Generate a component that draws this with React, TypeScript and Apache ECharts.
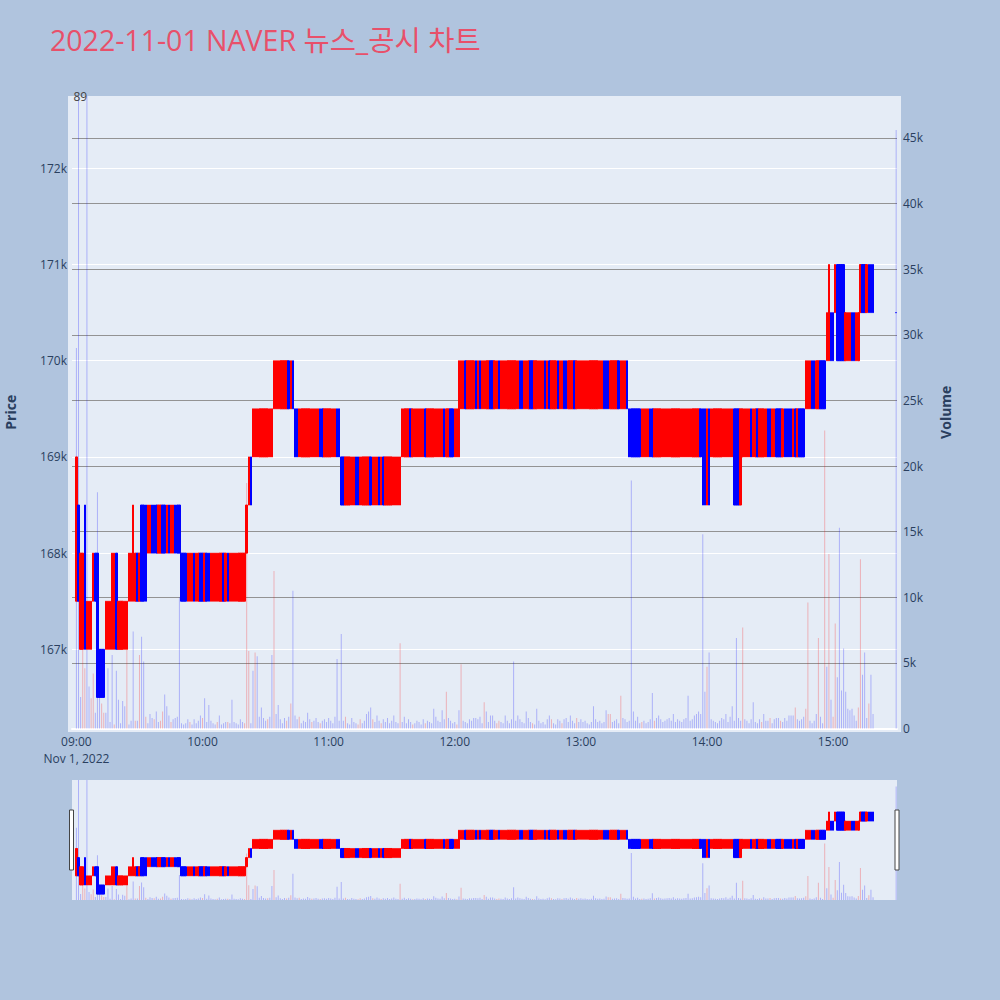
import React, { useEffect, useRef } from "react";
import * as echarts from "echarts";

// ---------- data ----------
const TITLE = "2022-11-01 NAVER 뉴스_공시 차트";
const priceTicks = [167000, 168000, 169000, 170000, 171000, 172000];
const volumeTicks = [0, 5000, 10000, 15000, 20000, 25000, 30000, 35000, 40000, 45000];
const timeTicks = [0, 60, 120, 180, 240, 300, 360]; // minutes after 09:00
const timeLabels = ["09:00\nNov 1, 2022", "10:00", "11:00", "12:00", "13:00", "14:00", "15:00"];

// [first minute, last minute, low, high, per-minute direction R=up B=down]
const priceRuns: [number, number, number, number, string][] = [
  [0, 0, 167500, 169000, "R"],
  [1, 1, 167500, 168500, "B"],
  [2, 3, 167000, 168000, "RR"],
  [4, 4, 167000, 168500, "B"],
  [5, 7, 167000, 167500, "RRR"],
  [8, 8, 167500, 168000, "R"],
  [9, 9, 167500, 168000, "B"],
  [10, 10, 166500, 168000, "B"],
  [11, 13, 166500, 167000, "BBB"],
  [14, 16, 167000, 167500, "RRR"],
  [17, 18, 167000, 168000, "RR"],
  [19, 19, 167000, 168000, "B"],
  [20, 24, 167000, 167500, "RRRRR"],
  [25, 26, 167500, 168000, "RR"],
  [27, 27, 167500, 168500, "R"],
  [28, 28, 167500, 168000, "R"],
  [29, 30, 167500, 168000, "BR"],
  [31, 33, 167500, 168500, "BBB"],
  [34, 49, 168000, 168500, "RR BBB RR BB R B RR BBB"],
  [50, 80, 167500, 168000, "BBB RRR B RR BB R BB RRRRRR B R B RRRRRRRR"],
  [81, 81, 168000, 168500, "R"],
  [82, 82, 168500, 169000, "R"],
  [83, 83, 168500, 169000, "B"],
  [84, 93, 169000, 169500, "RRRRRRRRRR"],
  [94, 103, 169500, 170000, "RRRRRRR B R B"],
  [104, 125, 169000, 169500, "BB RRRRRRRRRR BB RRRRRR BB"],
  [126, 154, 168500, 169000, "BB RRRRR BB RRRRR B RRR B R B RRRRRRRR"],
  [155, 181, 169000, 169500, "RRRR B RRRRRR B RRRRRRRR B RR BB RR"],
  [182, 182, 169000, 170000, "R"],
  [183, 262, 169500, 170000, "RR B RRRR B R B RRRR BB RR B RRRRRRRRR BB RRR BB RRRRR B R B RRR B RR BB RRR B RRRRRRRRRRRRR BBB RRRR B RRR B"],
  [263, 296, 169000, 169500, "BBBBBB RRRR BB RRRRRRRRRRRRRRRRRRRRRR"],
  [297, 297, 169000, 169500, "B"],
  [298, 301, 168500, 169500, "BBRB"],
  [302, 312, 169000, 169500, "RRRRRRRRRRR"],
  [313, 316, 168500, 169500, "BBBR"],
  [317, 346, 169000, 169500, "RRRR B RR B RRRR BB RR BBB R BBBB R B R BBB"],
  [347, 356, 169500, 170000, "RRR BB RR BBB"],
  [357, 357, 170000, 170500, "R"],
  [358, 358, 170000, 171000, "R"],
  [359, 360, 170000, 170500, "BB"],
  [361, 361, 170500, 171000, "R"],
  [362, 365, 170000, 171000, "BBBB"],
  [366, 372, 170000, 170500, "RRR BB RR"],
  [373, 379, 170500, 171000, "R BB R BBB"],
  [390, 390, 170500, 170500, "B"],
];

// volume per minute from 09:00 (minute 0) to 15:19 (minute 379)
const volumes: number[] = [
  29000, 60000, 2400, 6000, 4600, 60000, 3200, 2300, 4200, 1200,
  18000, 4700, 1900, 1200, 1200, 4600, 500, 5600, 300, 4400,
  2200, 400, 2100, 1700, 6000, 300, 600, 7400, 600, 600,
  5600, 7000, 5100, 900, 400, 1100, 800, 700, 1300, 500,
  600, 1300, 2600, 1700, 1000, 500, 700, 800, 900, 10000,
  400, 300, 400, 700, 500, 300, 700, 400, 600, 1000,
  800, 2300, 500, 1800, 600, 400, 300, 500, 1000, 300,
  400, 500, 500, 400, 2200, 500, 400, 300, 700, 500,
  400, 18700, 5900, 400, 4400, 5800, 5500, 900, 1600, 800,
  600, 700, 900, 5600, 12000, 1100, 1800, 700, 400, 800,
  600, 900, 1900, 10500, 1000, 700, 900, 400, 600, 500,
  1200, 700, 500, 600, 800, 500, 400, 600, 700, 500,
  800, 600, 400, 900, 5300, 600, 7200, 600, 900, 400,
  300, 800, 500, 400, 300, 700, 400, 600, 1100, 1300,
  1600, 700, 500, 1000, 600, 400, 700, 500, 800, 400,
  600, 1000, 500, 400, 6500, 500, 900, 400, 700, 500,
  300, 400, 600, 500, 300, 700, 400, 600, 500, 400,
  1500, 900, 600, 500, 1400, 700, 2800, 800, 600, 400,
  500, 300, 1400, 4900, 600, 500, 400, 700, 600, 800,
  800, 700, 900, 400, 2000, 1300, 500, 1000, 1000, 600,
  400, 600, 500, 400, 1000, 600, 400, 700, 5100, 600,
  1000, 700, 500, 400, 1300, 800, 500, 400, 300, 1500,
  600, 400, 500, 300, 700, 1000, 700, 400, 300, 700,
  600, 400, 700, 800, 500, 1000, 600, 400, 800, 500,
  700, 500, 600, 400, 300, 500, 1700, 700, 500, 600,
  400, 500, 1400, 1100, 1100, 500, 600, 700, 400, 2500,
  800, 700, 500, 600, 18900, 1300, 600, 900, 400, 500,
  600, 400, 500, 700, 2700, 600, 800, 1000, 700, 500,
  600, 700, 800, 600, 1100, 500, 700, 600, 500, 700,
  800, 2500, 600, 700, 1000, 1100, 1300, 1100, 14800, 2800,
  4700, 5800, 700, 600, 500, 400, 600, 800, 700, 1100,
  500, 900, 1700, 600, 6900, 800, 600, 7700, 700, 600,
  400, 700, 2000, 500, 400, 700, 500, 1100, 600, 600,
  800, 400, 700, 800, 800, 600, 500, 800, 600, 1000,
  1000, 1000, 1600, 700, 600, 700, 900, 1500, 9600, 600,
  400, 600, 1100, 6900, 900, 400, 22700, 4700, 13300, 2200,
  900, 8000, 3900, 15300, 2900, 6100, 2800, 1500, 1400, 1500,
  1000, 600, 1600, 12900, 4100, 5800, 800, 1900, 4100, 1100,
];
const closingMinute = 390;
const closingVolume = 45600;
const volRedMinutes = [3, 4, 7, 8, 12, 13, 18, 24, 28, 30, 33, 37, 40, 41, 45, 54, 60, 67, 72, 80, 81, 82, 85, 91, 94, 100, 102, 106, 112, 116, 128, 134, 135, 141, 145, 154, 160, 166, 176, 181, 183, 194, 200, 201, 217, 226, 231, 238, 253, 254, 259, 269, 275, 300, 317, 326, 330, 335, 342, 347, 348, 353, 356, 358, 360, 361, 372, 373, 377];

// ---------- styling ----------
const RED = "#ff0000";
const BLUE = "#0000ff";
const VOL_RED = "rgba(255,0,0,0.25)";
const VOL_BLUE = "rgba(0,0,255,0.25)";
const FONT = "'Open Sans', 'Noto Sans CJK KR', verdana, arial, sans-serif";
const TXT = "#2a3f5f";

const X_MIN = -2.1;
const X_MAX = 390.4;
const P_MIN = 166177;
const P_MAX = 172752;
const V_MAX = 48200;

function buildCandles() {
  const out: any[] = [];
  for (const [s, e, lo, hi, raw] of priceRuns) {
    const dirs = raw.replace(/\s/g, "");
    for (let m = s; m <= e; m++) {
      const up = (dirs[m - s] || "R") === "R";
      const col = up ? RED : BLUE;
      out.push({
        value: [m, up ? lo : hi, up ? hi : lo, lo, hi],
        itemStyle: { color: col, color0: col, borderColor: col, borderColor0: col, opacity: 1 },
      });
    }
  }
  return out;
}

function buildVolumes() {
  const red = new Set(volRedMinutes);
  const out: any[] = volumes.map((v, m) => ({
    value: [m, v],
    itemStyle: { color: red.has(m) ? VOL_RED : VOL_BLUE },
  }));
  out.push({ value: [closingMinute, closingVolume], itemStyle: { color: VOL_BLUE } });
  return out;
}

export default function App() {
  const ref = useRef<HTMLDivElement>(null);
  useEffect(() => {
    if (!ref.current) return;
    const chart = echarts.init(ref.current, undefined, { renderer: "svg" });
    const candles = buildCandles();
    const vols = buildVolumes();

    const candleStyle = {
      borderWidth: 1, opacity: 1,
      color: RED, color0: BLUE, borderColor: RED, borderColor0: BLUE,
    };

    const option: any = {
      animation: false,
      backgroundColor: "#b0c4de",
      textStyle: { fontFamily: FONT },
      grid: [
        { left: 72, top: 96, width: 825, height: 632.5, containLabel: false, outerBoundsMode: "none" },
        {
          left: 72, top: 780, width: 825, height: 120, containLabel: false, outerBoundsMode: "none",
          show: true, backgroundColor: "#e5ecf6", borderWidth: 0,
        },
      ],
      xAxis: [
        {
          type: "value", gridIndex: 0, min: X_MIN, max: X_MAX,
          axisLine: { show: true, lineStyle: { color: "#ffffff", width: 2 } },
          axisTick: { show: false, customValues: timeTicks },
          splitLine: { show: false },
          axisLabel: {
            customValues: timeTicks,
            color: TXT, fontSize: 12, fontFamily: FONT, margin: 4, lineHeight: 17,
            formatter: (v: number) => timeLabels[timeTicks.indexOf(Math.round(v))] ?? "",
          },
        },
        {
          type: "value", gridIndex: 1, min: X_MIN, max: X_MAX,
          axisLine: { show: false }, axisTick: { show: false }, axisLabel: { show: false }, splitLine: { show: false },
        },
      ],
      yAxis: [
        {
          type: "value", gridIndex: 0, position: "left", min: P_MIN, max: P_MAX,
          name: "Price", nameLocation: "middle", nameGap: 55,
          nameTextStyle: { color: TXT, fontSize: 14, fontWeight: "bold", fontFamily: FONT },
          axisLine: { show: false }, axisTick: { show: false, customValues: priceTicks },
          axisLabel: {
            customValues: priceTicks, color: TXT, fontSize: 12, fontFamily: FONT, margin: 5,
            formatter: (v: number) => `${Math.round(v / 1000)}k`,
          },
          splitLine: { show: true, lineStyle: { color: "#ffffff", width: 1 } },
        },
        {
          type: "value", gridIndex: 0, position: "right", min: 0, max: V_MAX,
          name: "Volume", nameLocation: "middle", nameGap: 41,
          nameTextStyle: { color: TXT, fontSize: 14, fontWeight: "bold", fontFamily: FONT },
          axisLine: { show: false }, axisTick: { show: false, customValues: volumeTicks },
          axisLabel: {
            customValues: volumeTicks, color: TXT, fontSize: 12, fontFamily: FONT, margin: 6,
            formatter: (v: number) => (v === 0 ? "0" : `${Math.round(v / 1000)}k`),
          },
          splitLine: { show: true, lineStyle: { color: "#939393", width: 1 } },
        },
        {
          type: "value", gridIndex: 1, min: P_MIN, max: P_MAX,
          axisLine: { show: false }, axisTick: { show: false }, axisLabel: { show: false }, splitLine: { show: false },
        },
        {
          type: "value", gridIndex: 1, min: 0, max: V_MAX,
          axisLine: { show: false }, axisTick: { show: false }, axisLabel: { show: false }, splitLine: { show: false },
        },
      ],
      series: [
        {
          type: "bar", name: "Volume", xAxisIndex: 0, yAxisIndex: 1, data: vols,
          barWidth: 1, z: 1, silent: true, clip: true,
        },
        {
          type: "candlestick", name: "Price", xAxisIndex: 0, yAxisIndex: 0, data: candles,
          encode: { x: 0, y: [1, 2, 3, 4] }, barWidth: 2, z: 2, silent: true, clip: true,
          itemStyle: candleStyle,
        },
        {
          type: "bar", name: "VolumeMini", xAxisIndex: 1, yAxisIndex: 3, data: vols,
          barWidth: 1, z: 1, silent: true, clip: true,
        },
        {
          type: "candlestick", name: "PriceMini", xAxisIndex: 1, yAxisIndex: 2, data: candles,
          encode: { x: 0, y: [1, 2, 3, 4] }, barWidth: 2, z: 2, silent: true, clip: true,
          itemStyle: candleStyle,
        },
      ],
      graphic: [
        { type: "rect", z: -10, silent: true, shape: { x: 68, y: 96, width: 833, height: 636 }, style: { fill: "#e5ecf6" } },
        {
          type: "text", z: 10, silent: true, x: 50, y: 40,
          style: { text: TITLE, fill: "#e8506a", font: `28.5px ${FONT}`, textVerticalAlign: "middle", verticalAlign: "middle" },
        },
        {
          type: "text", z: 10, silent: true, x: 73.5, y: 96,
          style: { text: "89", fill: "#444444", font: `12px ${FONT}`, verticalAlign: "middle", textVerticalAlign: "middle" },
        },
        { type: "rect", z: 20, silent: true, shape: { x: 69.5, y: 810, width: 4, height: 60 }, style: { fill: "#ffffff", stroke: "#444444", lineWidth: 1 } },
        { type: "rect", z: 20, silent: true, shape: { x: 895, y: 810, width: 4, height: 60 }, style: { fill: "#ffffff", stroke: "#444444", lineWidth: 1 } },
      ],
    };
    chart.setOption(option);
    return () => chart.dispose();
  }, []);
  return (
    <div
      ref={ref}
      style={{ position: "fixed", left: 0, top: 0, width: 1000, height: 1000 }}
    />
  );
}
